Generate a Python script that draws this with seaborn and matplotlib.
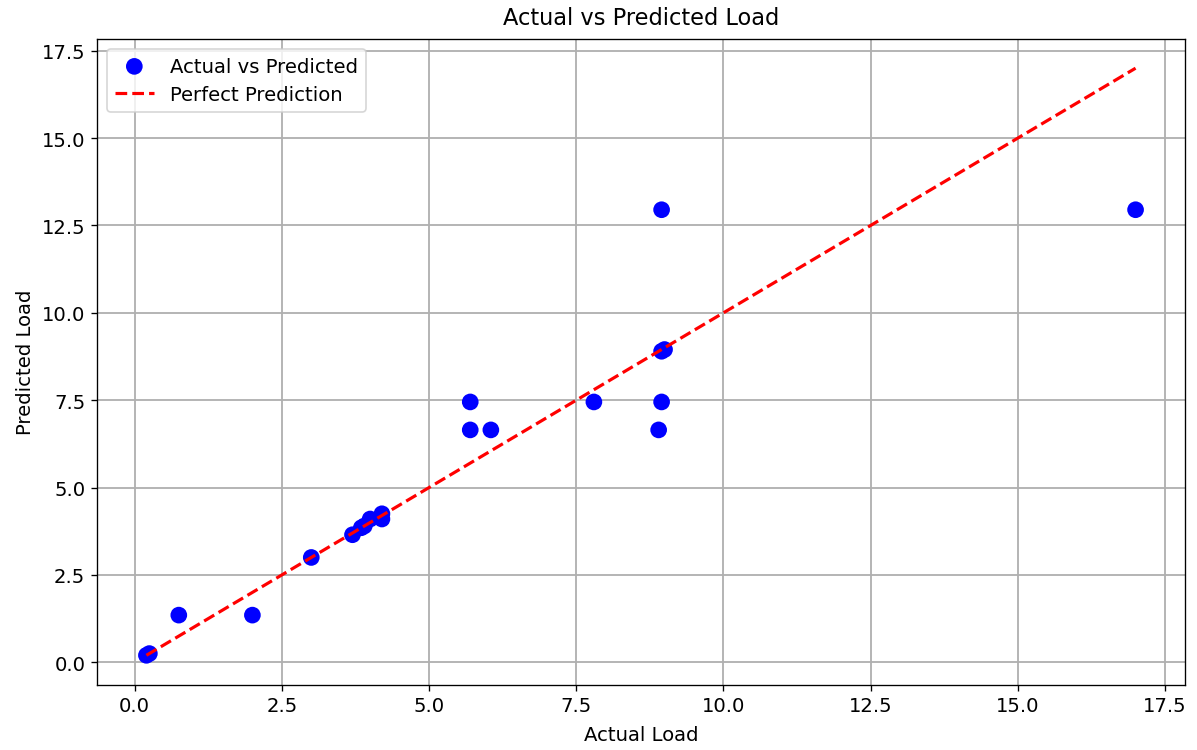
import matplotlib
matplotlib.use("Agg")
import matplotlib.pyplot as plt
import seaborn as sns
import pandas as pd

actual = [0.2, 0.25, 0.75, 2.0, 3.0, 3.7, 3.85, 3.9, 4.0, 4.2, 4.2,
          5.7, 5.7, 6.05, 7.8, 8.95, 8.9, 9.0, 8.95, 8.95, 17.0]
predicted = [0.2, 0.25, 1.35, 1.35, 3.0, 3.65, 3.85, 3.9, 4.1, 4.1, 4.25,
             7.45, 6.65, 6.65, 7.45, 7.45, 6.65, 8.95, 8.9, 12.95, 12.95]

df = pd.DataFrame({"Actual Load": actual, "Predicted Load": predicted})

fig, ax = plt.subplots(figsize=(9.975, 6.258), dpi=120)
sns.scatterplot(data=df, x="Actual Load", y="Predicted Load", color="blue",
                s=100, edgecolor="none", label="Actual vs Predicted", ax=ax, zorder=3)
lo, hi = min(actual), max(actual)
ax.plot([lo, hi], [lo, hi], color="red", linestyle="--", linewidth=1.9,
        label="Perfect Prediction", zorder=4)
ax.set_title("Actual vs Predicted Load", fontsize=13.5, pad=9)
ax.set_xlabel("Actual Load", fontsize=11.8, labelpad=6)
ax.set_ylabel("Predicted Load", fontsize=11.8)
ax.tick_params(labelsize=11.8)
ax.grid(True, color="#b0b0b0", linewidth=1.1)
ax.set_axisbelow(True)
ax.legend(loc="upper left", fontsize=11.8)
fig.subplots_adjust(left=0.081, right=0.990, top=0.947, bottom=0.087)
fig.savefig("out.png", dpi=120)
